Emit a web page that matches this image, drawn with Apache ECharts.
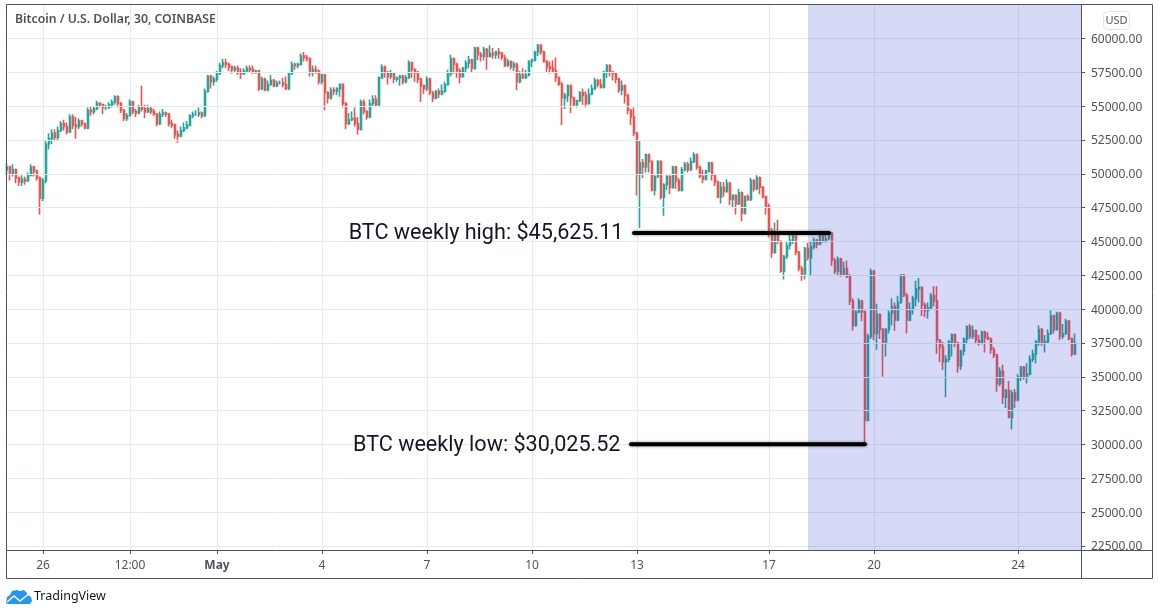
<!DOCTYPE html>
<html>
<head>
<meta charset="utf-8">
<style>html,body{margin:0;padding:0;background:#fff}#main{width:1158px;height:615px}</style>
<script src="https://cdn.jsdelivr.net/npm/echarts@6/dist/echarts.min.js"></script>
</head>
<body>
<div id="main"></div>
<script>
// candle values in USD
const opens = [50300,50500,50000,50300,49700,49400,49600,49500,49900,50500,
50200,49700,48200,49500,52200,52600,53000,52700,53200,53700,
53500,53100,54200,53600,53500,53900,53700,53400,54700,54600,
54800,55200,55100,54900,54900,55100,55300,55700,55200,54700,
54100,54300,55300,54600,54500,54900,54800,54600,54800,54600,
54400,53700,54400,54500,54400,53700,53600,52900,52800,53200,
53400,53600,54300,54400,54400,54500,54300,56100,57200,56800,
57000,57400,58000,58200,58100,57900,57700,57800,57500,57400,
57600,57800,57700,57500,57600,56300,57000,56200,56600,56900,
56500,56700,56700,56600,56300,57400,58100,58000,58100,58700,
58600,58500,57500,57700,57600,56800,57300,56000,55600,56200,
56100,56300,56600,55200,53700,54000,54100,53700,53300,55300,
54600,54200,55200,55500,55100,57100,57900,57500,57200,57400,
57000,57100,57200,56800,57100,58200,57700,57500,57000,56500,
56300,57000,56000,55600,56100,55900,56100,56600,57400,58500,
58100,57600,57200,57800,58200,58400,57800,59300,58800,58700,
59200,58700,58900,58800,59000,58900,58600,58000,58300,57900,
58100,56800,57300,57100,57300,58300,58400,59000,59500,59000,
58300,57900,57800,57600,57100,56600,55600,55800,56500,55600,
55100,55400,56000,55800,55200,55900,56300,56900,56600,56400,
57500,58000,57500,57400,57000,56200,56500,55800,54700,54200,
53000,50000,50800,50500,51400,50900,48800,49800,50900,48300,
49200,49800,49000,50500,49500,48800,50300,50700,50300,50900,
51400,50500,49800,49600,50200,50800,49900,49400,48300,49000,
48700,49300,48100,48400,47800,48600,47100,48300,48100,49500,
48900,49700,49000,48300,47600,45800,44200,45500,45000,42800,
43900,44700,45100,45400,44200,43000,42500,44500,43800,44600,
45100,44800,45500,45100,45200,45600,43600,42800,43700,42600,
43000,42400,40600,38800,39800,40600,39800,31800,38000,42800,
38200,39600,38500,37500,38500,39700,40200,39200,40500,42500,
41000,39200,40000,40800,41500,41600,40300,39900,40100,41000,
40600,37700,37200,36100,36300,37600,38100,37500,35800,36900,
37800,38700,38000,38400,37700,37500,38300,37900,37800,37000,
36600,34500,35400,33500,34000,32000,33800,33300,35000,35700,
35000,35200,36300,36700,37600,38500,37500,37600,38200,39500,
38500,39700,38000,38200,39100,37800,36700];
const closes = [50500,50000,50300,49700,49400,49600,49500,49900,50500,50200,
49700,48200,49500,52200,52600,53000,52700,53200,53700,53500,
53100,54200,53600,53500,53900,53700,53400,54700,54600,54800,
55200,55100,54900,54900,55100,55300,55700,55200,54700,54100,
54300,55300,54600,54500,54900,54800,54600,54800,54600,54400,
53700,54400,54500,54400,53700,53600,52900,52800,53200,53400,
53600,54300,54400,54400,54500,54300,56100,57200,56800,57000,
57400,58000,58200,58100,57900,57700,57800,57500,57400,57600,
57800,57700,57500,57600,56300,57000,56200,56600,56900,56500,
56700,56700,56600,56300,57400,58100,58000,58100,58700,58600,
58500,57500,57700,57600,56800,57300,56000,55600,56200,56100,
56300,56600,55200,53700,54000,54100,53700,53300,55300,54600,
54200,55200,55500,55100,57100,57900,57500,57200,57400,57000,
57100,57200,56800,57100,58200,57700,57500,57000,56500,56300,
57000,56000,55600,56100,55900,56100,56600,57400,58500,58100,
57600,57200,57800,58200,58400,57800,59300,58800,58700,59200,
58700,58900,58800,59000,58900,58600,58000,58300,57900,58100,
56800,57300,57100,57300,58300,58400,59000,59500,59000,58300,
57900,57800,57600,57100,56600,55600,55800,56500,55600,55100,
55400,56000,55800,55200,55900,56300,56900,56600,56400,57500,
58000,57500,57400,57000,56200,56500,55800,54700,54200,53000,
50000,50800,50500,51400,50900,48800,49800,50900,48300,49200,
49800,49000,50500,49500,48800,50300,50700,50300,50900,51400,
50500,49800,49600,50200,50800,49900,49400,48300,49000,48700,
49300,48100,48400,47800,48600,47100,48300,48100,49500,48900,
49700,49000,48300,47600,45800,44200,45500,45000,42800,43900,
44700,45100,45400,44200,43000,42500,44500,43800,44600,45100,
44800,45500,45100,45200,45600,43600,42800,43700,42600,43000,
42400,40600,38800,39800,40600,39800,31800,38000,42800,38200,
39600,38500,37500,38500,39700,40200,39200,40500,42500,41000,
39200,40000,40800,41500,41600,40300,39900,40100,41000,40600,
37700,37200,36100,36300,37600,38100,37500,35800,36900,37800,
38700,38000,38400,37700,37500,38300,37900,37800,37000,36600,
34500,35400,33500,34000,32000,33800,33300,35000,35700,35000,
35200,36300,36700,37600,38500,37500,37600,38200,39500,38500,
39700,38000,38200,39100,37800,36700,37500];
const lows = [49900,49500,49800,49300,49100,49100,49200,49400,49800,49800,
49500,47000,48000,49300,51800,52200,52400,52500,53100,53200,
52900,53000,53300,52600,53300,53500,53300,53300,54300,54400,
54700,54900,54400,54700,54800,54900,55100,54900,54500,53900,
53900,54300,54400,54200,54400,54600,54100,54500,54400,54300,
53500,53600,54200,54200,53500,53400,52600,52300,52700,53100,
53300,53500,54100,54300,54200,54100,54200,56000,56300,56500,
56800,57300,57800,57800,57600,57400,57500,57300,57000,57300,
57500,57500,57400,57400,56100,56200,56100,56100,56500,56400,
56400,56600,56400,56200,56200,57300,57700,57800,58000,58300,
58300,57200,57200,57400,56600,56600,54700,55200,55500,55800,
55800,55700,54900,53300,53600,53900,53500,52900,53200,54400,
54000,54100,55000,55000,55000,57000,57100,56600,57000,56700,
56800,56500,56600,56700,57000,57100,56800,56700,55300,55900,
56100,55800,55300,55500,55600,55800,56000,56500,57200,57400,
57100,56700,57100,57500,57800,57500,57700,58400,58300,58400,
57700,58600,58500,58500,58500,58400,57900,57900,57700,57600,
56200,56700,57000,57000,57200,57900,58300,58700,58800,58200,
57500,57400,57500,56800,56500,53600,54800,55300,54500,55000,
54900,55300,55100,54900,55100,55800,56200,56400,56300,56300,
57100,57200,56900,56700,56000,55800,55200,54400,53600,52800,
48400,46000,49700,50100,50100,48700,48400,49700,48100,46900,
48800,48500,48900,48900,48700,48700,50200,50100,50200,50800,
50300,49700,49300,49500,50100,49500,49100,48200,47800,48300,
48600,47700,47500,47000,47700,46500,47000,48000,48000,48700,
48800,48500,48200,47000,45300,43800,44100,44800,42700,42200,
43700,44400,44800,44000,42800,42100,42200,43600,42500,44400,
44500,44700,44900,44900,45100,43200,42600,42500,42400,42500,
42300,40300,38400,38700,39700,39100,30025,31700,37800,37700,
37000,37800,35000,36500,38200,38800,38400,39100,40400,40900,
38200,39100,39600,40200,40500,39500,39400,39300,40000,40200,
36700,36100,35500,33500,36100,36500,37200,35300,35500,36600,
37500,37800,37800,37500,37300,37400,36800,37700,36700,36400,
33900,34300,33000,32700,32000,31100,32700,33200,34700,34800,
34500,35100,36100,36000,37300,37300,36800,37500,38100,38200,
38400,37700,37800,38100,37700,36500,36600];
const highs = [50800,50600,50700,50400,49800,49900,49800,50100,50700,50600,
50300,49800,49700,52500,53000,53300,53300,53500,53900,54000,
53800,54400,54400,54200,54100,54000,53800,54900,55000,55000,
55400,55300,55200,55100,55300,55500,55800,55800,55300,54800,
54500,55500,55400,54800,55100,56500,55100,55100,55000,54800,
54500,54600,54800,54600,54500,54000,53700,53200,53500,53800,
53900,54400,54600,54700,54900,54600,56300,57300,57300,57200,
57600,58200,58500,58500,58200,58000,58000,58000,57800,57800,
58000,58000,58000,57700,57700,57200,57100,56900,57300,57000,
56900,56900,57100,57200,57500,58300,58200,58200,58900,59000,
58800,58600,58000,58000,57700,57400,57400,56100,56400,56400,
56400,56700,56700,55300,54500,54600,54900,54200,55500,55500,
54700,55500,55800,55800,57200,58100,58000,57600,57700,57500,
57200,57300,57300,57300,58400,58300,57800,57600,57100,56600,
57200,57100,56100,56200,56300,56600,56800,57700,58800,58600,
58200,57800,57900,58400,58700,58500,59400,59400,59000,59400,
59300,59500,59300,59100,59300,59000,58800,58500,58400,58300,
58200,57600,57800,57700,58400,58500,59100,59600,59600,59100,
58400,58300,58400,58600,57200,56800,56000,56600,56600,55700,
55500,56100,56300,56100,56300,56600,57100,57000,57000,57600,
58100,58100,57600,57500,57100,56900,56600,55900,54800,54900,
53100,52500,51100,51500,51500,51000,49900,51000,51000,49300,
49900,49900,50600,50600,49700,50500,50900,50900,51200,51600,
51500,50600,50300,50300,50900,50900,50000,49500,49400,49400,
49600,49400,48500,48500,48900,48700,48400,48500,49700,49600,
49900,49800,49100,48400,47800,46000,46400,46600,45100,44000,
45000,45500,45800,45600,44300,43200,44600,44900,45000,45300,
45200,45800,45600,45600,45700,45700,43800,43900,43800,43500,
43600,42600,40800,39900,40800,40700,39900,38200,43000,42900,
40400,39700,38600,38600,39900,40800,40500,41000,42600,42600,
41200,40500,41000,42100,42300,41700,40500,40500,41200,41700,
41700,37800,37600,36600,37700,38200,38200,37600,37000,37900,
38800,38900,38800,38500,38100,38400,38400,38300,37900,37200,
36700,35700,35900,34100,34700,34000,34100,35200,35800,35800,
36000,36600,37000,37700,38800,38600,38100,38500,39900,39600,
39800,39800,38900,39300,39200,37900,38200];

const priceTicks = [60000,57500,55000,52500,50000,47500,45000,42500,40000,37500,35000,32500,30000,27500,25000,22500];
const dateLabels = ['26','12:00','May','4','7','10','13','17','20','24'];
const dateIndex = [12,41,70,105,140,175,210,254,289,337];
const slotCount = 359;

const weeklyHigh = 45625.11;
const weeklyLow = 30025.52;
const highRange = [209,274];
const lowRange = [208,286];
const shadeRange = [267,358];

// one slot per candle, labels only on the ticks
const categories = [];
for (let i = 0; i < slotCount; i++) {
  const at = dateIndex.indexOf(i);
  categories.push(at >= 0 ? dateLabels[at] : '');
}
const candles = closes.map((c, i) => [opens[i], c, lows[i], highs[i]]);
const showDate = (i) => dateIndex.includes(i);

const AXIS = '#50535e';
const GRID = '#e1ecf2';
const UP = '#26a69a';
const DOWN = '#ef5350';

// weekly high / low bar with its caption on the left end
function levelSeries(range, price, caption) {
  return {
    type: 'line',
    z: 20,
    symbol: 'circle',
    symbolSize: 1,
    silent: true,
    itemStyle: {color: '#000'},
    lineStyle: {color: '#000', width: 4, cap: 'round', shadowColor: 'rgba(0,0,0,0.5)', shadowBlur: 3},
    data: [
      {value: [range[0], price], label: {show: true, position: 'left', distance: 10, offset: [0, 1], formatter: caption, fontFamily: 'Roboto', fontSize: 21.6, color: '#131722'}},
      [range[1], price]
    ]
  };
}

const chart = echarts.init(document.getElementById('main'));
chart.setOption({
  animation: false,
  textStyle: {fontFamily: '"Noto Sans", sans-serif'},
  grid: {left: 7, right: 77, top: 5, bottom: 65},
  xAxis: {
    type: 'category',
    data: categories,
    boundaryGap: false,
    axisLine: {lineStyle: {color: AXIS}},
    axisTick: {interval: showDate, length: 4, lineStyle: {color: AXIS}},
    splitLine: {show: true, interval: showDate, lineStyle: {color: GRID}},
    axisLabel: {
      interval: showDate,
      color: AXIS,
      fontSize: 12,
      margin: 10,
      formatter: (v) => v === 'May' ? '{b|May}' : v,
      rich: {b: {fontWeight: 'bold', fontSize: 12, color: AXIS}}
    }
  },
  yAxis: {
    type: 'value',
    position: 'right',
    min: 22204,
    max: 62476,
    scale: true,
    axisLine: {show: true, lineStyle: {color: AXIS}},
    axisTick: {show: true, customValues: priceTicks, length: 4, lineStyle: {color: AXIS}},
    axisLabel: {
      customValues: priceTicks,
      margin: 10,
      formatter: (v) => '{p|' + v.toFixed(2) + '}',
      rich: {p: {color: AXIS, fontSize: 12, padding: [2, 0, 0, 0]}}
    },
    splitLine: {show: false}
  },
  series: [
    {
      // horizontal grid
      type: 'line',
      data: [],
      z: 0,
      silent: true,
      markLine: {
        silent: true,
        symbol: 'none',
        animation: false,
        label: {show: false},
        lineStyle: {color: GRID, width: 1, type: 'solid'},
        data: priceTicks.map((v) => ({yAxis: v}))
      }
    },
    {
      type: 'candlestick',
      data: candles,
      z: 2,
      barWidth: 2,
      itemStyle: {color: UP, color0: DOWN, borderColor: UP, borderColor0: DOWN, borderWidth: 1.6}
    },
    {
      // the shaded week sits over the candles
      type: 'line',
      data: [],
      z: 10,
      silent: true,
      markArea: {
        silent: true,
        z: 10,
        animation: false,
        itemStyle: {color: 'rgba(50,70,210,0.2)'},
        data: [[{xAxis: shadeRange[0]}, {xAxis: shadeRange[1]}]]
      }
    },
    levelSeries(highRange, weeklyHigh, 'BTC weekly high: $45,625.11'),
    levelSeries(lowRange, weeklyLow, 'BTC weekly low: $30,025.52')
  ],
  graphic: [
    {type: 'rect', z: 50, shape: {x: 1082, y: 551, width: 70, height: 27}, style: {fill: '#fff'}},
    {type: 'rect', z: 51, shape: {x: 6.5, y: 4.5, width: 1146, height: 574}, style: {fill: 'none', stroke: AXIS, lineWidth: 1}},
    {type: 'line', z: 51, shape: {x1: 1081, y1: 550.5, x2: 1152, y2: 550.5}, style: {stroke: AXIS}},
    {type: 'line', z: 51, shape: {x1: 1081.5, y1: 550, x2: 1081.5, y2: 578}, style: {stroke: AXIS}},
    {type: 'text', z: 51, x: 15, y: 14, style: {text: 'Bitcoin / U.S. Dollar, 30, COINBASE', fill: AXIS, font: '600 12.25px "Noto Sans"'}},
    {type: 'rect', z: 51, shape: {x: 1103.5, y: 11.5, width: 26, height: 18, r: 4}, style: {fill: '#fff', stroke: '#e0e3eb'}},
    {type: 'text', z: 52, x: 1116.5, y: 20.5, style: {text: 'USD', fill: AXIS, font: '11px "Noto Sans"', align: 'center', verticalAlign: 'middle'}},
    // TradingView mark
    {type: 'polygon', z: 51, shape: {points: [[6,603],[7,597],[10,595],[12,591],[17,590],[20,591],[24,590],[27,593],[28,595],[31,597],[32,601],[30,604],[8,604]]}, style: {fill: '#2196f3'}},
    {type: 'polyline', z: 52, shape: {points: [[7,602],[14,596],[20,601],[30,593]]}, style: {fill: 'none', stroke: '#fff', lineWidth: 1.5}},
    {type: 'text', z: 51, x: 34, y: 590, style: {text: 'TradingView', fill: '#131722', font: '12.5px "Noto Sans"'}}
  ]
});
</script>
</body>
</html>
